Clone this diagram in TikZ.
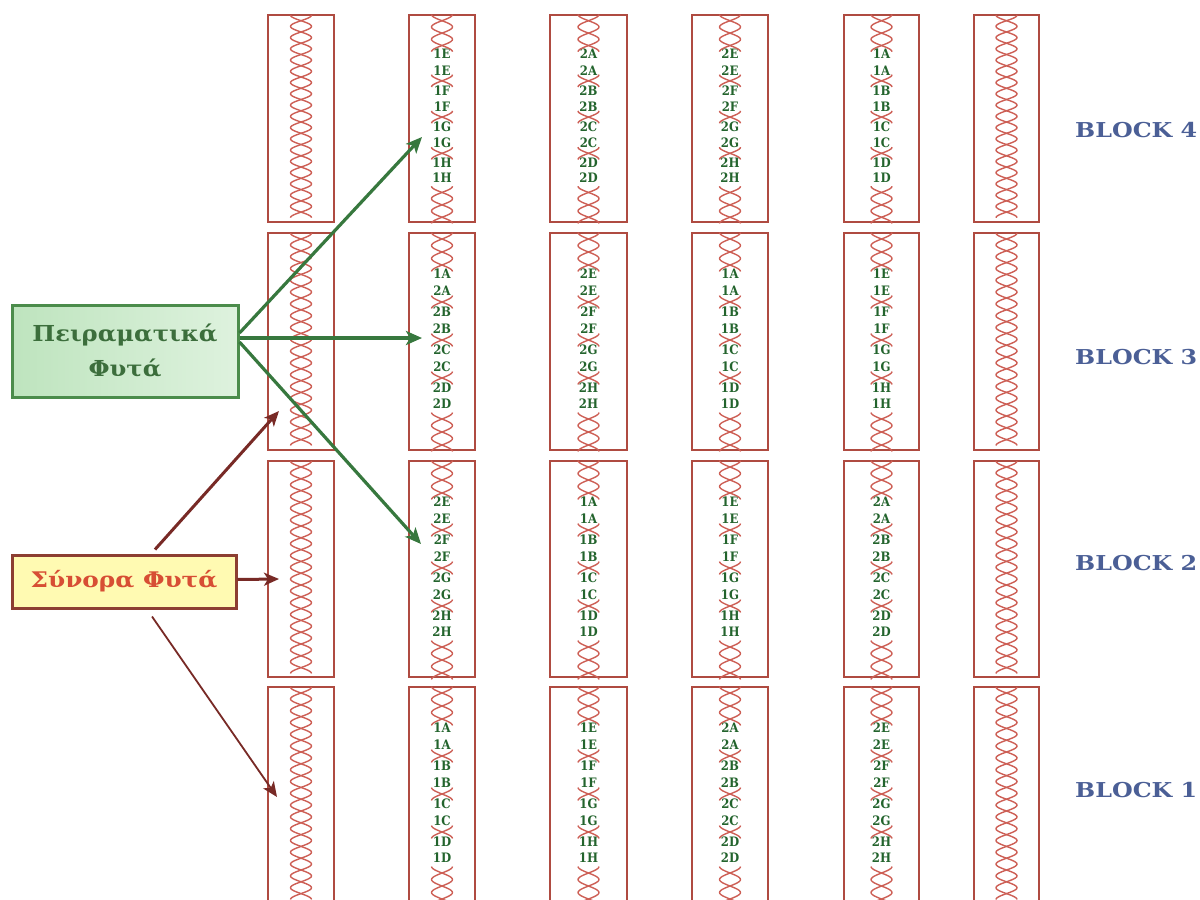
\documentclass[tikz,border=0pt]{standalone}
\usepackage{fontspec}
\setmainfont{DejaVu Serif}
\usetikzlibrary{arrows.meta}
\definecolor{boxred}{RGB}{175,75,65}
\definecolor{chainred}{RGB}{205,95,85}
\definecolor{labgreen}{RGB}{35,100,45}
\definecolor{peiborder}{RGB}{75,140,75}
\definecolor{peitext}{RGB}{60,110,60}
\definecolor{peifillA}{RGB}{190,228,190}
\definecolor{peifillB}{RGB}{222,242,222}
\definecolor{synborder}{RGB}{140,62,50}
\definecolor{synfill}{RGB}{255,250,178}
\definecolor{syntext}{RGB}{215,78,52}
\definecolor{blktext}{RGB}{75,95,150}
\definecolor{arrgreen}{RGB}{55,120,62}
\definecolor{arrred}{RGB}{120,42,38}
\def\offs{{41,58,79,96,117,134,155,171}}
\def\amp{10.5}
\newcommand\xchain[4]{% cx, yfirst, n, p
  \pgfmathsetmacro\ya{#2-#4/2}
  \pgfmathsetmacro\yb{#2+(#3-1)*#4+#4/2}
  \pgfmathtruncatemacro\ns{#3*12+1}
  \draw[chain] plot[variable=\yv, domain=\ya:\yb, samples=\ns] ({#1+\amp*cos((\yv-\ya)/#4*180)},\yv);
  \draw[chain] plot[variable=\yv, domain=\ya:\yb, samples=\ns] ({#1-\amp*cos((\yv-\ya)/#4*180)},\yv);
}
\newcommand\labcol[5]{% name, cx, top, scale, labels
  \foreach \txt [count=\i] in {#5} {
    \pgfmathsetmacro\yy{#3+#4*\offs[\i-1]}
    \node[lab] (#1-\i) at (#2,\yy) {\txt};
  }
  \pgfmathsetmacro\yt{#3+6*#4}\pgfmathsetmacro\pp{13*#4}
  \xchain{#2}{\yt}{3}{\pp}
  \pgfmathsetmacro\yt{#3+69*#4}\xchain{#2}{\yt}{1}{\pp}
  \pgfmathsetmacro\yt{#3+107*#4}\xchain{#2}{\yt}{1}{\pp}
  \pgfmathsetmacro\yt{#3+145*#4}\xchain{#2}{\yt}{1}{\pp}
  \pgfmathsetmacro\yt{#3+186*#4}\xchain{#2}{\yt}{3}{\pp}
}
\newcommand\bordcol[3]{% cx, top, scale
  \pgfmathsetmacro\yt{#2+6*#3}\pgfmathsetmacro\pp{11.8*#3}
  \xchain{#1}{\yt}{18}{\pp}
}
\begin{document}
\begin{tikzpicture}[x=1pt,y=-1pt,
  cellbox/.style={draw=boxred, line width=1.6pt, rectangle, inner sep=0pt, outer sep=0pt, anchor=north west, fill=white},
  chain/.style={draw=chainred, line width=1.4pt},
  lab/.style={text=labgreen, font=\bfseries\fontsize{13}{13}\selectfont, inner sep=0pt, xscale=0.9},
  peibox/.style={draw=peiborder, line width=3pt, left color=peifillA, right color=peifillB, minimum width=226pt, minimum height=92pt, inner sep=0pt, align=center, text=peitext, font=\bfseries\fontsize{22}{35}\selectfont},
  synbox/.style={draw=synborder, line width=3pt, fill=synfill, minimum width=224pt, minimum height=53pt, inner sep=0pt, text=syntext, font=\bfseries\fontsize{21.5}{25}\selectfont},
  blk/.style={text=blktext, font=\bfseries\fontsize{20.5}{22}\selectfont, anchor=west, inner sep=0pt, xscale=1.16},
  garrow/.style={draw=arrgreen, line width=3.2pt, -{Stealth[length=16pt,width=14pt,inset=4pt]}},
  rarrow/.style={draw=arrred, line width=3pt, -{Stealth[length=15pt,width=13pt,inset=4pt]}},
  rarrowthin/.style={draw=arrred, line width=1.8pt, -{Stealth[length=15pt,width=13pt,inset=4pt]}}
]
\useasboundingbox (0,0) rectangle (1200,900);
\clip (0,0) rectangle (1200,900);
\fill[white] (0,0) rectangle (1200,900);

% boxes
\foreach \c/\l/\r in {1/268/334, 2/409/475, 3/550/627, 4/692/768, 5/844/919, 6/974/1039} {
  \foreach \rw/\tp/\bt in {4/15/222, 3/233/450, 2/461/677, 1/687/920} {
    \pgfmathsetmacro\ww{\r-\l}\pgfmathsetmacro\hh{\bt-\tp}
    \node[cellbox, minimum width=\ww pt, minimum height=\hh pt] (c\c r\rw) at (\l,\tp) {};
  }
}

% border columns
\foreach \tp/\s in {15/0.954, 233/1, 461/1, 687/1} {
  \bordcol{301}{\tp}{\s}
  \bordcol{1006.5}{\tp}{\s}
}

% row 4
\labcol{l24}{442}{15}{0.954}{1E,1E,1F,1F,1G,1G,1H,1H}
\labcol{l34}{588.5}{15}{0.954}{2A,2A,2B,2B,2C,2C,2D,2D}
\labcol{l44}{730}{15}{0.954}{2E,2E,2F,2F,2G,2G,2H,2H}
\labcol{l54}{881.5}{15}{0.954}{1A,1A,1B,1B,1C,1C,1D,1D}
% row 3
\labcol{l23}{442}{233}{1}{1A,2A,2B,2B,2C,2C,2D,2D}
\labcol{l33}{588.5}{233}{1}{2E,2E,2F,2F,2G,2G,2H,2H}
\labcol{l43}{730}{233}{1}{1A,1A,1B,1B,1C,1C,1D,1D}
\labcol{l53}{881.5}{233}{1}{1E,1E,1F,1F,1G,1G,1H,1H}
% row 2
\labcol{l22}{442}{461}{1}{2E,2E,2F,2F,2G,2G,2H,2H}
\labcol{l32}{588.5}{461}{1}{1A,1A,1B,1B,1C,1C,1D,1D}
\labcol{l42}{730}{461}{1}{1E,1E,1F,1F,1G,1G,1H,1H}
\labcol{l52}{881.5}{461}{1}{2A,2A,2B,2B,2C,2C,2D,2D}
% row 1
\labcol{l21}{442}{687}{1}{1A,1A,1B,1B,1C,1C,1D,1D}
\labcol{l31}{588.5}{687}{1}{1E,1E,1F,1F,1G,1G,1H,1H}
\labcol{l41}{730}{687}{1}{2A,2A,2B,2B,2C,2C,2D,2D}
\labcol{l51}{881.5}{687}{1}{2E,2E,2F,2F,2G,2G,2H,2H}

% block labels
\node[blk] (b4) at (1075,130) {BLOCK 4};
\node[blk] (b3) at (1075,357) {BLOCK 3};
\node[blk] (b2) at (1075,563) {BLOCK 2};
\node[blk] (b1) at (1075,790) {BLOCK 1};

% legend boxes
\node[peibox] (pei) at (125,351) {\scalebox{1.1}[1]{Πειραματικά}\\\scalebox{1.1}[1]{Φυτά}};
\node[synbox] (syn) at (124,581.5) {\scalebox{1.15}[1]{Σύνορα Φυτά}};

% arrow targets
\coordinate (g4) at (422,137);
\coordinate (g3) at (422,338);
\coordinate (g2) at (421,544);
\coordinate (s3) at (279,411);
\coordinate (s2) at (279,579);
\coordinate (s1) at (277,797);

\draw[garrow] ([yshift=18pt]pei.east) -- (g4);
\draw[garrow] ([yshift=13pt]pei.east) -- (g3);
\draw[garrow] ([yshift=9pt]pei.east) -- (g2);
\draw[rarrow] ([xshift=31pt,yshift=4pt]syn.north) -- (s3);
\draw[rarrow] ([yshift=2pt]syn.east) -- (s2);
\draw[rarrowthin] ([xshift=28pt,yshift=-7pt]syn.south) -- (s1);
\end{tikzpicture}
\end{document}
